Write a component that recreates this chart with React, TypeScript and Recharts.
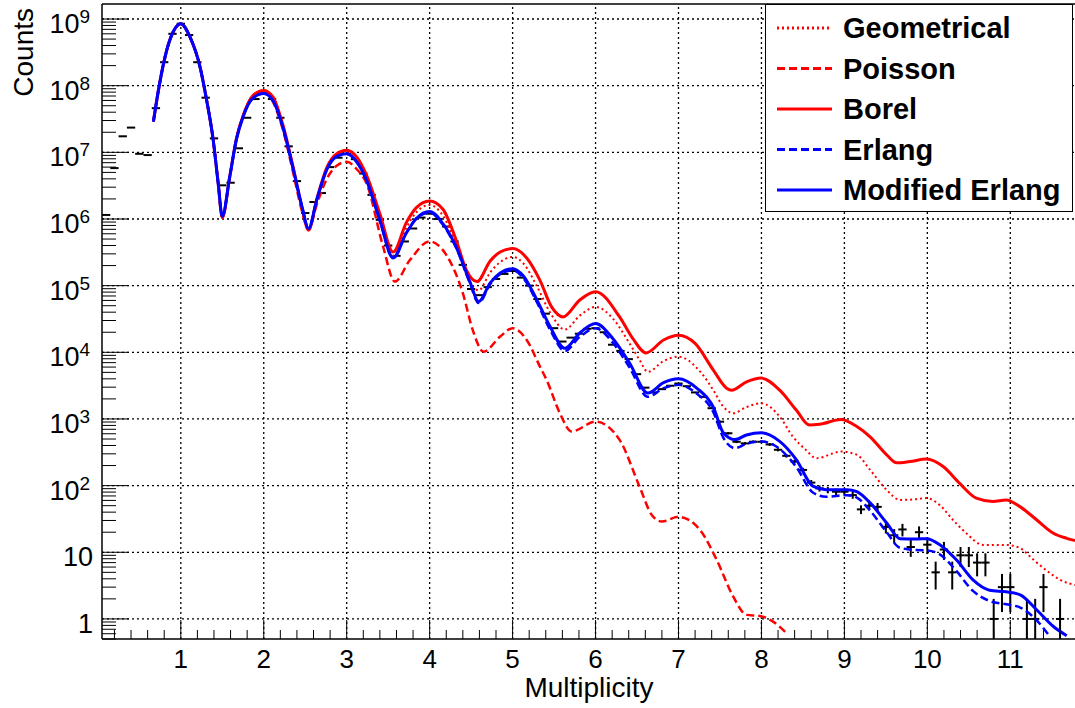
import React from 'react';
import { ComposedChart, Line, Scatter, ErrorBar, XAxis, YAxis, ReferenceLine } from 'recharts';

const FONT = '"Liberation Sans", Arial, Helvetica, sans-serif';

// axes
const xDomain = [0.05, 11.78];
const yDomain = [0.5, 1.68e9];
const xMajor = [1, 2, 3, 4, 5, 6, 7, 8, 9, 10, 11];
const yMajor = [1, 10, 1e2, 1e3, 1e4, 1e5, 1e6, 1e7, 1e8, 1e9];
const yExponent = [0, 1, 2, 3, 4, 5, 6, 7, 8, 9];

// measured histogram (bin centres, counts)
const dataX = [
  0.1, 0.2, 0.3, 0.4, 0.5, 0.6, 0.7, 0.8, 0.9, 1.0, 1.1, 1.2, 1.3, 1.4, 1.5, 1.6, 1.7, 1.8, 1.9, 2.0,
  2.1, 2.2, 2.3, 2.4, 2.5, 2.6, 2.7, 2.8, 2.9, 3.0, 3.1, 3.2, 3.3, 3.4, 3.5, 3.6, 3.7, 3.8, 3.9, 4.0,
  4.1, 4.2, 4.3, 4.4, 4.5, 4.6, 4.7, 4.8, 4.9, 5.0, 5.1, 5.2, 5.3, 5.4, 5.5, 5.6, 5.7, 5.8, 5.9, 6.0,
  6.1, 6.2, 6.3, 6.4, 6.5, 6.6, 6.7, 6.8, 6.9, 7.0, 7.1, 7.2, 7.3, 7.4, 7.5, 7.6, 7.7, 7.8, 7.9, 8.0,
  8.1, 8.2, 8.3, 8.4, 8.5, 8.6, 8.7, 8.8, 8.9, 9.0, 9.1, 9.2, 9.3, 9.4, 9.5, 9.6, 9.7, 9.8, 9.9, 10.0,
  10.1, 10.2, 10.3, 10.4, 10.5, 10.6, 10.7, 10.8, 10.9, 11.0, 11.2, 11.3, 11.4, 11.6,
];
const dataCounts = [
  1.15e6, 5.8e6, 1.74e7, 2.35e7, 9.5e6, 9.1e6, 4.6e7, 2.25e8, 6.0e8, 8.5e8, 5.75e8, 2.25e8, 6.6e7, 1.62e7, 3.2e6, 3.5e6, 1.15e7, 3.3e7, 6.3e7, 7.6e7,
  6.3e7, 3.3e7, 1.23e7, 3.7e6, 1.23e6, 1.8e6, 2.45e6, 6.0e6, 8.3e6, 9.5e6, 7.9e6, 4.8e6, 2.3e6, 9.7e5, 4.0e5, 2.8e5, 4.6e5, 7.2e5, 1.05e6, 1.2e6,
  1.0e6, 7.7e5, 4.6e5, 2.05e5, 8.9e4, 7.2e4, 9.5e4, 1.26e5, 1.5e5, 1.66e5, 1.32e5, 1.0e5, 6.3e4, 3.8e4, 2.3e4, 1.45e4, 1.66e4, 1.9e4, 2.25e4, 2.3e4,
  2.0e4, 1.3e4, 1.05e4, 7900, 4700, 2950, 2500, 2800, 3150, 3400, 3100, 2500, 2150, 1450, 910, 610, 455, 430, 455, 455,
  415, 345, 280, 230, 172, 111, 91, 86, 81, 81, 72, 44, 50, 48, 24, 18, 22, 12, 20, 13,
  5, 11, 5, 9, 9, 7, 7, 1, 3, 3, 1, 1, 3, 1,
];
const binHalfWidth = 0.05;

// fitted curves
const geometricalX = [
  0.67, 0.73, 0.83, 0.91, 1.0, 1.11, 1.23, 1.31, 1.39, 1.45, 1.5, 1.59, 1.67, 1.75, 1.87, 2.0, 2.11, 2.23, 2.35, 2.46,
  2.54, 2.64, 2.76, 2.88, 3.0, 3.12, 3.24, 3.4, 3.56, 3.72, 3.84, 4.0, 4.16, 4.32, 4.45, 4.59, 4.73, 4.85, 5.0, 5.13,
  5.29, 5.45, 5.63, 5.81, 6.0, 6.21, 6.41, 6.53, 6.63, 6.82, 7.0, 7.28, 7.42, 7.54, 7.66, 7.82, 8.0, 8.22, 8.38, 8.54,
  8.66, 8.96, 9.15, 9.31, 9.51, 9.67, 9.83, 9.99, 10.15, 10.31, 10.47, 10.67, 10.95, 11.12, 11.28, 11.48, 11.6, 11.78,
];
const geometricalY = [
  2.9e7, 8.5e7, 3.4e8, 6.5e8, 8.5e8, 5.4e8, 1.95e8, 6.2e7, 1.55e7, 3.5e6, 1.05e6, 4.3e6, 1.6e7, 3.5e7, 7.1e7, 8.5e7, 6.8e7, 2.6e7, 6.3e6, 1.5e6,
  6.8e5, 1.95e6, 5.6e6, 8.9e6, 9.8e6, 7.6e6, 4.1e6, 1.07e6, 2.8e5, 7.4e5, 1.26e6, 1.62e6, 1.12e6, 4.0e5, 1.4e5, 8.5e4, 1.58e5, 2.25e5, 2.7e5, 2.15e5,
  1.0e5, 4.0e4, 2.2e4, 3.55e4, 4.8e4, 3.2e4, 1.36e4, 7700, 5100, 7400, 8600, 4800, 2700, 1530, 1220, 1510, 1720, 1080, 540, 340,
  257, 324, 290, 172, 86, 61, 62, 65, 51, 30.5, 19.3, 12.9, 12.9, 11.5, 7.7, 4.85, 3.85, 3.24,
];

const poissonX = [
  0.67, 0.73, 0.83, 0.91, 1.0, 1.11, 1.23, 1.31, 1.39, 1.45, 1.5, 1.59, 1.67, 1.75, 1.87, 2.0,
  2.11, 2.23, 2.35, 2.46, 2.54, 2.64, 2.76, 2.88, 3.0, 3.12, 3.24, 3.44, 3.58, 3.76, 4.0, 4.2, 4.4, 4.52, 4.65, 4.85,
  5.0, 5.17, 5.33, 5.41, 5.57, 5.71, 6.0, 6.29, 6.53, 6.68, 6.8, 7.0, 7.26, 7.46, 7.66, 7.82, 7.98, 8.14, 8.32,
];
const poissonY = [
  2.9e7, 8.5e7, 3.4e8, 6.5e8, 8.5e8, 5.4e8, 1.95e8, 6.2e7, 1.55e7, 3.5e6, 1.05e6, 4.3e6, 1.6e7, 3.5e7, 7.1e7, 8.5e7,
  5.75e7, 2.2e7, 5.25e6, 1.32e6, 6.9e5, 1.66e6, 4.0e6, 6.3e6, 7.2e6, 5.6e6, 3.4e6, 3.8e5, 1.15e5, 2.4e5, 4.6e5, 2.9e5, 7.7e4, 2.15e4, 1.02e4, 1.72e4,
  2.3e4, 1.53e4, 6100, 3850, 1220, 650, 910, 485, 97, 36, 29, 34, 21.6, 7.7, 2.16, 1.15, 1.11, 0.91, 0.58,
];

const borelX = [
  0.67, 0.73, 0.83, 0.91, 1.0, 1.11, 1.23, 1.31, 1.39, 1.45, 1.5, 1.59, 1.67, 1.75, 1.87, 2.0, 2.11, 2.23, 2.35, 2.46,
  2.54, 2.64, 2.76, 2.88, 3.0, 3.12, 3.24, 3.4, 3.56, 3.72, 3.84, 4.0, 4.16, 4.32, 4.44, 4.57, 4.73, 4.85, 5.0, 5.17,
  5.33, 5.47, 5.61, 5.81, 6.0, 6.29, 6.45, 6.61, 6.82, 7.0, 7.2, 7.42, 7.58, 7.64, 7.82, 8.0, 8.22, 8.42, 8.58, 8.7,
  8.96, 9.15, 9.31, 9.51, 9.63, 9.79, 9.99, 10.19, 10.39, 10.59, 10.79, 10.95, 11.12, 11.32, 11.52, 11.68, 11.78,
];
const borelY = [
  2.9e7, 8.5e7, 3.4e8, 6.5e8, 8.5e8, 5.4e8, 1.95e8, 6.2e7, 1.55e7, 3.5e6, 1.05e6, 4.3e6, 1.6e7, 3.5e7, 7.1e7, 8.5e7, 6.8e7, 2.6e7, 6.3e6, 1.5e6,
  6.8e5, 2.0e6, 5.9e6, 9.5e6, 1.07e7, 8.5e6, 4.5e6, 1.2e6, 3.2e5, 8.9e5, 1.48e6, 1.86e6, 1.4e6, 4.8e5, 1.74e5, 1.15e5, 2.35e5, 3.2e5, 3.6e5, 2.6e5,
  1.2e5, 4.8e4, 3.4e4, 6.1e4, 8.1e4, 3.4e4, 1.6e4, 9800, 1.53e4, 1.8e4, 1.36e4, 5400, 2900, 2700, 3600, 4100, 2700, 1360, 810, 830,
  980, 770, 540, 290, 220, 230, 250, 193, 108, 65, 58, 61, 48, 30.5, 19.3, 16.2, 15,
];

const erlangX = [
  0.67, 0.73, 0.83, 0.91, 1.0, 1.11, 1.23, 1.31, 1.39, 1.45, 1.5, 1.59, 1.67, 1.75, 1.87, 2.0, 2.11, 2.23, 2.35, 2.46,
  2.54, 2.64, 2.76, 2.88, 3.0, 3.12, 3.24, 3.4, 3.56, 3.72, 3.84, 4.0, 4.16, 4.32, 4.49, 4.59, 4.73, 4.85, 5.0, 5.13,
  5.29, 5.45, 5.63, 5.81, 6.0, 6.21, 6.41, 6.63, 6.82, 7.0, 7.22, 7.42, 7.54, 7.68, 7.82, 8.0, 8.22, 8.42, 8.62, 8.78,
  9.03, 9.15, 9.31, 9.51, 9.67, 9.87, 9.99, 10.15, 10.35, 10.55, 10.75, 10.95, 11.12, 11.32, 11.46,
];
const erlangY = [
  2.9e7, 8.5e7, 3.4e8, 6.5e8, 8.5e8, 5.4e8, 1.95e8, 6.2e7, 1.55e7, 3.5e6, 1.1e6, 4.3e6, 1.55e7, 3.4e7, 6.5e7, 7.6e7, 6.0e7, 2.4e7, 6.0e6, 1.55e6,
  7.2e5, 1.95e6, 5.5e6, 8.7e6, 9.5e6, 7.2e6, 3.8e6, 9.5e5, 2.6e5, 6.2e5, 1.02e6, 1.25e6, 8.2e5, 3.7e5, 1.05e5, 5.5e4, 1.05e5, 1.48e5, 1.7e5, 1.3e5,
  5.75e4, 2.2e4, 1.05e4, 1.7e4, 2.3e4, 1.38e4, 5900, 2150, 2900, 3250, 2400, 1260, 525, 365, 425, 460, 355, 190, 79, 68,
  72, 66, 42, 20, 11.7, 10.8, 10.7, 9.3, 5.25, 2.63, 1.86, 1.66, 1.48, 0.95, 0.58,
];

const modErlangX = [
  0.67, 0.73, 0.83, 0.91, 1.0, 1.11, 1.23, 1.31, 1.39, 1.45, 1.5, 1.59, 1.67, 1.75, 1.87, 2.0, 2.11, 2.23, 2.35, 2.46,
  2.54, 2.64, 2.76, 2.88, 3.0, 3.12, 3.24, 3.4, 3.56, 3.72, 3.84, 4.0, 4.16, 4.32, 4.49, 4.59, 4.73, 4.85, 5.0, 5.13,
  5.29, 5.45, 5.63, 5.81, 6.0, 6.21, 6.41, 6.63, 6.82, 7.0, 7.22, 7.42, 7.54, 7.68, 7.82, 8.0, 8.22, 8.42, 8.62, 8.78,
  9.03, 9.15, 9.31, 9.51, 9.67, 9.87, 9.99, 10.15, 10.35, 10.55, 10.75, 10.95, 11.12, 11.32, 11.52, 11.68,
];
const modErlangY = [
  2.9e7, 8.5e7, 3.4e8, 6.5e8, 8.5e8, 5.4e8, 1.95e8, 6.2e7, 1.55e7, 3.5e6, 1.1e6, 4.3e6, 1.55e7, 3.4e7, 6.5e7, 7.6e7, 6.0e7, 2.4e7, 6.0e6, 1.55e6,
  7.2e5, 1.95e6, 5.5e6, 8.7e6, 9.5e6, 7.2e6, 3.8e6, 9.5e5, 2.6e5, 6.2e5, 1.02e6, 1.3e6, 8.5e5, 3.8e5, 1.1e5, 5.8e4, 1.1e5, 1.55e5, 1.8e5, 1.4e5,
  6.2e4, 2.45e4, 1.15e4, 1.95e4, 2.7e4, 1.6e4, 6900, 2450, 3500, 4000, 2900, 1500, 620, 490, 575, 620, 460, 245, 98, 87,
  87, 81, 55, 27.5, 16, 15.8, 16, 13, 7.7, 3.85, 2.7, 2.55, 2.3, 1.36, 0.77, 0.56,
];

const series = [
  { key: 'geo', name: 'Geometrical', color: '#ff0000', dash: '2 3', width: 2, xs: geometricalX, ys: geometricalY },
  { key: 'poi', name: 'Poisson', color: '#ff0000', dash: '8 4', width: 2.5, xs: poissonX, ys: poissonY },
  { key: 'bor', name: 'Borel', color: '#ff0000', dash: undefined, width: 3, xs: borelX, ys: borelY },
  { key: 'erl', name: 'Erlang', color: '#0000ff', dash: '8 4', width: 2.5, xs: erlangX, ys: erlangY },
  { key: 'mod', name: 'Modified Erlang', color: '#0000ff', dash: undefined, width: 3, xs: modErlangX, ys: modErlangY },
];

const points = dataX.map((x, i) => {
  const n = dataCounts[i];
  const s = Math.sqrt(n);
  return { x, y: n, ex: binHalfWidth, ey: [Math.min(s, n - yDomain[0]), s] };
});

// ticks: every 0.2 on x, 1..9 x 10^n on y
const xTicks = Array.from({ length: 58 }, (_, i) => Math.round((i + 1) * 2) / 10);
const yTicks = [0.5, 0.6, 0.7, 0.8, 0.9]
  .concat(yMajor.flatMap((d) => [1, 2, 3, 4, 5, 6, 7, 8, 9].map((m) => m * d)))
  .filter((v) => v <= yDomain[1]);

const gridStyle = { stroke: '#000', strokeWidth: 1.3, strokeDasharray: '2 3' };

function YTick(props: any) {
  const { x, y, payload } = props;
  const idx = yMajor.indexOf(payload.value);
  const major = idx >= 0;
  return (
    <g>
      <line x1={x} y1={y} x2={x + (major ? 27 : 14)} y2={y} stroke="#000" strokeWidth={1} />
      {major && yExponent[idx] < 2 && (
        <text x={x - 9} y={y + 14} textAnchor="end" fontSize={27} fontFamily={FONT} fill="#000">
          {yExponent[idx] === 0 ? '1' : '10'}
        </text>
      )}
      {major && yExponent[idx] >= 2 && (
        <text x={x - 12} y={y + 14} textAnchor="end" fontSize={27} fontFamily={FONT} fill="#000">
          10
          <tspan dy={-10} fontSize={19}>{yExponent[idx]}</tspan>
        </text>
      )}
    </g>
  );
}

function XTick(props: any) {
  const { x, y, payload } = props;
  const v = payload.value;
  const major = xMajor.some((m) => Math.abs(m - v) < 1e-6);
  return (
    <g>
      <line x1={x} y1={y} x2={x} y2={y - (major ? 19 : 9)} stroke="#000" strokeWidth={1} />
      {major && (
        <text x={x} y={y + 29} textAnchor="middle" fontSize={26} fontFamily={FONT} fill="#000">
          {Math.round(v)}
        </text>
      )}
    </g>
  );
}

export default function App() {
  return (
    <div style={{ position: 'absolute', left: 0, top: 0, width: 1075, height: 708, background: '#fff' }}>
      <ComposedChart width={1075} height={708} margin={{ top: 4, right: 0, bottom: 0, left: 0 }}>
        <XAxis
          dataKey="x"
          type="number"
          domain={xDomain}
          allowDataOverflow
          ticks={xTicks}
          interval={0}
          tick={<XTick />}
          tickSize={0}
          tickMargin={0}
          tickLine={false}
          axisLine={{ stroke: '#000', strokeWidth: 1.5 }}
          height={69}
          label={{
            content: () => (
              <text x={589} y={697} textAnchor="middle" fontSize={28} fontFamily={FONT} fill="#000">
                Multiplicity
              </text>
            ),
          }}
        />
        <YAxis
          type="number"
          scale="log"
          domain={yDomain}
          allowDataOverflow
          ticks={yTicks}
          interval={0}
          tick={<YTick />}
          tickSize={0}
          tickMargin={0}
          tickLine={false}
          axisLine={{ stroke: '#000', strokeWidth: 1.5 }}
          width={102}
          label={{
            content: () => (
              <text transform="rotate(-90)" x={-8} y={33} textAnchor="end" fontSize={28} fontFamily={FONT} fill="#000">
                Counts
              </text>
            ),
          }}
        />
        {yMajor.map((v) => (
          <ReferenceLine key={'gy' + v} y={v} {...gridStyle} />
        ))}
        {xMajor.map((v) => (
          <ReferenceLine key={'gx' + v} x={v} {...gridStyle} />
        ))}
        <ReferenceLine y={yDomain[1]} stroke="#000" strokeWidth={1.5} />
        <Scatter data={points} dataKey="y" shape={() => <g />} isAnimationActive={false}>
          <ErrorBar dataKey="ey" direction="y" width={0} stroke="#000" strokeWidth={2} />
          <ErrorBar dataKey="ex" direction="x" width={0} stroke="#000" strokeWidth={2} />
        </Scatter>
        {series.map((s) => (
          <Line
            key={s.key}
            name={s.name}
            data={s.xs.map((x, i) => ({ x, y: s.ys[i] }))}
            dataKey="y"
            type="monotone"
            stroke={s.color}
            strokeWidth={s.width}
            strokeDasharray={s.dash}
            dot={false}
            activeDot={false}
            isAnimationActive={false}
          />
        ))}
      </ComposedChart>
      <div
        style={{
          position: 'absolute',
          left: 765,
          top: 4,
          width: 306,
          height: 206,
          border: '1.5px solid #000',
          background: '#fff',
        }}
      >
        <svg width={306} height={206}>
          {series.map((s, i) => {
            const cy = 23 + i * 40.5;
            return (
              <g key={s.key}>
                <line x1={11} x2={66} y1={cy} y2={cy} stroke={s.color} strokeWidth={3} strokeDasharray={s.dash} />
                <text x={77} y={cy + 10} fontSize={29} fontWeight="bold" fontFamily={FONT} fill="#000">
                  {s.name}
                </text>
              </g>
            );
          })}
        </svg>
      </div>
    </div>
  );
}
